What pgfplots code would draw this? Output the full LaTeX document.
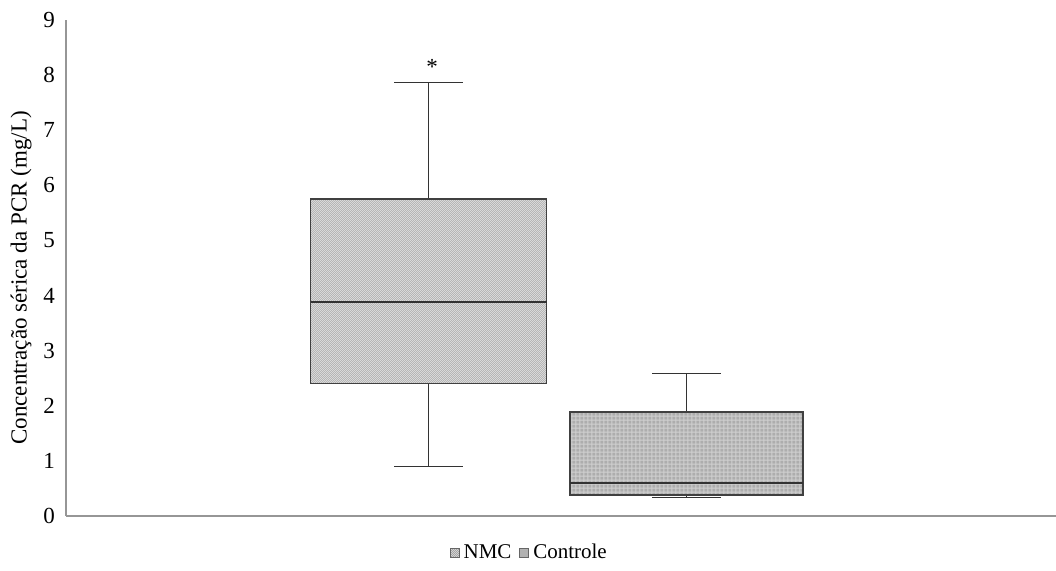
\documentclass[border=0pt]{standalone}
\usepackage{pgfplots}
\pgfplotsset{compat=1.18}
\usepgfplotslibrary{statistics}
\usetikzlibrary{patterns,patterns.meta}
\usepackage{fontspec}
\setmainfont{Liberation Serif}
\tikzdeclarepattern{
  name=finelines,
  type=uncolored,
  bounding box={(0,0) and (1.1pt,1.1pt)},
  tile size={(1.1pt,1.1pt)},
  code={\draw[line width=0.3pt] (-0.1pt,-0.1pt) -- (1.2pt,1.2pt);}
}
\tikzdeclarepattern{
  name=finegrid,
  type=uncolored,
  bounding box={(0,0) and (2.2pt,2.2pt)},
  tile size={(2.2pt,2.2pt)},
  code={\draw[line width=0.5pt] (0,0.5pt) -- (2.2pt,0.5pt); \draw[line width=0.5pt] (0.5pt,0) -- (0.5pt,2.2pt);}
}
\definecolor{axgray}{RGB}{150,150,150}
\newcommand{\chartfont}{\fontsize{11.5}{13}\selectfont}
\newcommand{\legfont}{\fontsize{10.5}{12}\selectfont}
\begin{document}
\begin{tikzpicture}
\begin{axis}[
  scale only axis,
  width=495pt, height=248pt,
  xmin=0, xmax=9.9,
  ymin=0, ymax=9,
  ytick={0,1,...,9},
  xtick=\empty,
  axis x line=bottom, axis y line=left,
  axis line style={-, draw=axgray, line width=0.6pt},
  major tick length=0pt,
  tick label style={font=\chartfont},
  yticklabel style={xshift=-2pt},
  /pgf/number format/assume math mode=true,
  ylabel={Concentração sérica da PCR (mg/L)},
  label style={font=\chartfont},
  ylabel style={yshift=-1pt, xshift=-5pt},
  boxplot/draw direction=y,
  legend columns=2,
  legend style={draw=none, fill=none, at={(0.469,-0.0746)}, anchor=center, font=\legfont,
    inner sep=0pt, /tikz/every even column/.append style={column sep=2pt}},
  legend cell align=left,
]
\addplot+[mark=none, draw=black!80, line width=0.5pt,
  boxplot prepared={draw position=3.625, lower whisker=0.89, lower quartile=2.40,
    median=3.88, upper quartile=5.75, upper whisker=7.86,
    box extend=2.36, whisker extend=0.69,
    every box/.style={draw=black!75, line width=0.7pt, fill=black!13, postaction={pattern={finelines}, pattern color=black!32}},
    every median/.style={draw=black!80, line width=0.7pt},
    every whisker/.style={draw=black!80, line width=0.5pt}},
  legend image code/.code={\draw[draw=black!60, fill=black!15, postaction={pattern={finelines}, pattern color=black!40}] (0pt,-2.2pt) rectangle (4.4pt,2.2pt);}
] coordinates {};
\addlegendentry{NMC}
\addplot+[mark=none, draw=black!80, line width=0.5pt,
  boxplot prepared={draw position=6.205, lower whisker=0.33, lower quartile=0.38,
    median=0.60, upper quartile=1.89, upper whisker=2.58,
    box extend=2.33, whisker extend=0.69,
    every box/.style={draw=black!75, line width=0.7pt, fill=black!32, postaction={pattern={finegrid}, pattern color=black!18}},
    every median/.style={draw=black!80, line width=0.7pt},
    every whisker/.style={draw=black!80, line width=0.5pt}},
  legend image code/.code={\draw[draw=black!60, fill=black!30] (0pt,-2.2pt) rectangle (4.4pt,2.2pt);}
] coordinates {};
\addlegendentry{Controle}
\node[font=\chartfont] at (axis cs:3.66,8.15) {*};
\coordinate (bl) at (rel axis cs:0,0);
\coordinate (tr) at (rel axis cs:1,1);
\end{axis}
\pgfresetboundingbox
\path ([shift={(-33pt,-27.5pt)}]bl) rectangle ([shift={(0pt,10pt)}]tr);
\end{tikzpicture}
\end{document}
